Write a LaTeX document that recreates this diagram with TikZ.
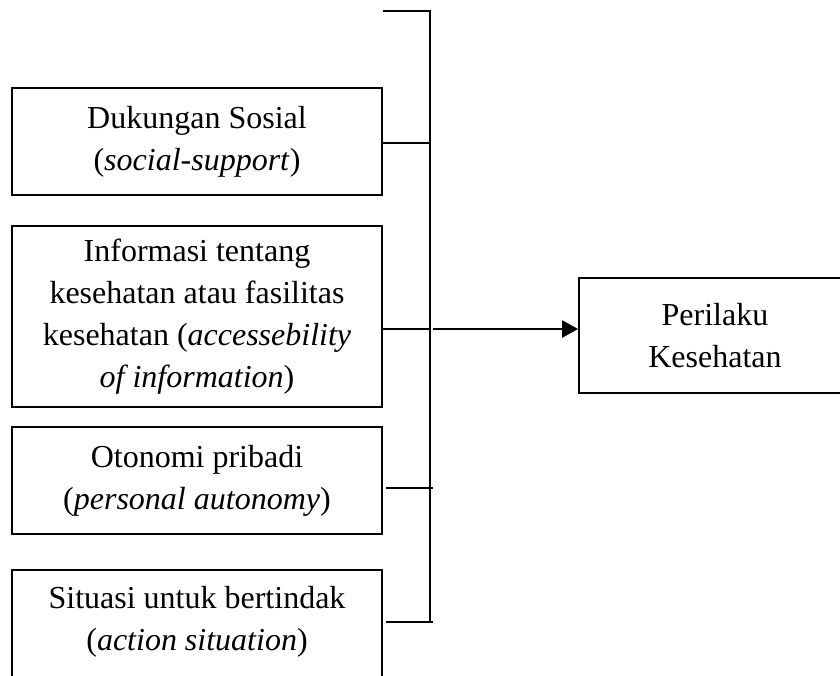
\documentclass[tikz,border=0pt]{standalone}
\usepackage{fontspec}
\setmainfont{Liberation Serif}
\usetikzlibrary{arrows.meta}
\begin{document}
\begin{tikzpicture}[x=1pt,y=-1pt,
  box/.style={draw,line width=1.8pt,align=center,inner sep=0pt,
    font=\fontsize{32}{42}\selectfont,minimum width=370pt},
  txt/.style={align=center,inner sep=0pt,font=\fontsize{32}{42}\selectfont},
  conn/.style={line width=1.5pt},
  arr/.style={line width=2.4pt,-{Triangle[length=16pt,width=17pt]}}]
\useasboundingbox (0,0) rectangle (840,675);
\node[box,minimum height=107pt] (b1) at (197,141.5) {Dukungan Sosial\\(\textit{social-support})};
\node[box,minimum height=181pt] (b2) at (197,316.5) {Informasi tentang\\kesehatan atau fasilitas\\kesehatan (\textit{accessebility}\\\textit{of information})};
\node[box,minimum height=107pt] (b3) at (197,480.5) {Otonomi pribadi\\(\textit{personal autonomy})};
\node[box,minimum height=116pt] (b4) at (197,628) {};
\node[txt] (b4t) at (197,621.5) {Situasi untuk bertindak\\(\textit{action situation})};
\node[box,minimum width=272pt,minimum height=115pt] (out) at (715,335.5) {Perilaku\\Kesehatan};
\coordinate (top) at (430,11);
\coordinate (j1) at (430,143);
\coordinate (j2) at (430,329);
\coordinate (j3) at (433,488);
\coordinate (j4) at (433,622);
\coordinate (bot) at (430,622);
\coordinate (a0) at (433,329);
\draw[conn] (b1.north east |- top) -- (top) -- (bot);
\draw[conn] (b1.east |- j1) -- (j1);
\draw[conn] (b2.east |- j2) -- (j2);
\draw[conn] ([xshift=3pt]b3.east |- j3) -- (j3);
\draw[conn] ([xshift=3pt]b4.east |- j4) -- (j4);
\draw[arr] (a0) -- (out.west |- a0);
\end{tikzpicture}
\end{document}
